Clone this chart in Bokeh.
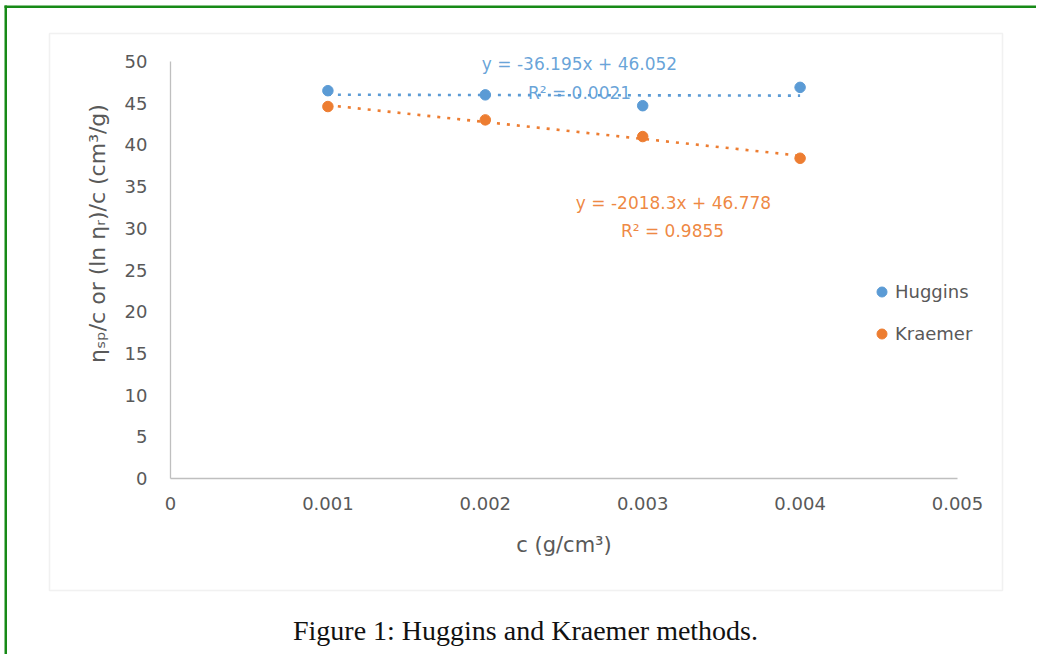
import numpy as np
from bokeh.plotting import figure
from bokeh.models import (Range1d, FixedTicker, Label, BoxAnnotation, Legend, LegendItem,
                          LinearAxis)
from bokeh.embed import file_html
from bokeh.resources import INLINE

# ---- data ----
conc = [0.001, 0.002, 0.003, 0.004]
huggins = [46.5, 46.0, 44.7, 46.9]
kraemer = [44.6, 43.0, 41.0, 38.4]
fit_slope = [-36.195, -2018.3]
fit_intercept = [46.052, 46.778]
fit_r2 = [0.0021, 0.9855]
series_names = ["Huggins", "Kraemer"]
x_ticks = [0, 0.001, 0.002, 0.003, 0.004, 0.005]
x_tick_labels = ["0", "0.001", "0.002", "0.003", "0.004", "0.005"]
y_ticks = [0, 5, 10, 15, 20, 25, 30, 35, 40, 45, 50]
x_title = "c (g/cm³)"
y_title = "ηₛₚ/c or (ln ηᵣ)/c (cm³/g)"
caption = "Figure 1: Huggins and Kraemer methods."

# ---- styling / layout ----
BLUE = "#5b9bd5"
ORANGE = "#ed7d31"
GRAY_TXT = "#595959"
FONT = "DejaVu Sans"
W, H = 1036, 654
# pixel anchors of the axes
PX_X0, PX_X5 = 170, 957
PX_Y0, PX_Y50 = 478, 61
sx = (PX_X5 - PX_X0) / 0.005
sy = (PX_Y0 - PX_Y50) / 50.0


def X(px):
    return (px - PX_X0) / sx


def Y(py):
    return (PX_Y0 - py) / sy


p = figure(width=W, height=H, output_backend="svg", toolbar_location=None,
           x_axis_type=None, y_axis_type=None,
           x_range=Range1d(X(0), X(W)), y_range=Range1d(Y(H), Y(0)),
           min_border=0, min_border_left=0, min_border_right=0,
           min_border_top=0, min_border_bottom=0)
p.grid.visible = False
p.outline_line_color = None
p.background_fill_color = "white"
p.border_fill_color = "white"

xaxis = LinearAxis(fixed_location=0, bounds=(0, 0.005), ticker=FixedTicker(ticks=x_ticks))
xaxis.major_label_overrides = {t: l for t, l in zip(x_ticks, x_tick_labels)}
yaxis = LinearAxis(fixed_location=0, bounds=(0, 50), ticker=FixedTicker(ticks=y_ticks))
for ax in (xaxis, yaxis):
    ax.axis_line_color = "#bfbfbf"
    ax.axis_line_width = 1.3
    ax.major_tick_line_color = None
    ax.minor_tick_line_color = None
    ax.major_tick_in = 0
    ax.major_tick_out = 0
    ax.minor_tick_in = 0
    ax.minor_tick_out = 0
    ax.major_label_text_color = GRAY_TXT
    ax.major_label_text_font = FONT
    ax.major_label_text_font_size = "18px"
    ax.axis_label_text_color = GRAY_TXT
    ax.axis_label_text_font = FONT
    ax.axis_label_text_font_style = "normal"
    ax.axis_label_text_font_size = "21px"
xaxis.major_label_standoff = 18
yaxis.major_label_standoff = 23
xaxis.axis_label = x_title
xaxis.axis_label_standoff = 20
p.add_layout(xaxis, "below")
p.add_layout(yaxis, "left")

# y axis title (placed as Excel does, slightly above the axis centre)
p.add_layout(Label(x=X(97), y=Y(233), text=y_title, angle=np.pi / 2,
                   text_color=GRAY_TXT, text_font=FONT, text_font_size="22px",
                   text_align="center", text_baseline="middle"))

# trendlines from the fitted equations
colors = [BLUE, ORANGE]
xs_fit = np.array([conc[0], conc[-1]])
for k in range(2):
    p.line(xs_fit, fit_slope[k] * xs_fit + fit_intercept[k], line_color=colors[k],
           line_width=2.6, line_dash="3 7")

r_h = p.scatter(conc, huggins, size=10.5, fill_color=BLUE, line_color=BLUE)
r_k = p.scatter(conc, kraemer, size=10.5, fill_color=ORANGE, line_color=ORANGE)

legend = Legend(items=[LegendItem(label=series_names[0], renderers=[r_h]),
                       LegendItem(label=series_names[1], renderers=[r_k])],
                location=(869, 308), orientation="vertical",
                glyph_width=25, glyph_height=25, spacing=17, padding=10,
                label_standoff=1, border_line_color=None, background_fill_alpha=0,
                label_text_font=FONT, label_text_font_size="18px",
                label_text_color=GRAY_TXT)
p.add_layout(legend)


# equation labels
def eq_text(k):
    return f"y = {fit_slope[k]}x + {fit_intercept[k]}"


lbls = [
    (eq_text(0), 579, 63, BLUE),
    (f"R² = {fit_r2[0]}", 579, 92, BLUE),
    (eq_text(1), 673, 202.5, ORANGE),
    (f"R² = {fit_r2[1]}", 672, 230, ORANGE),
]
for t, px, py, c in lbls:
    p.add_layout(Label(x=X(px), y=Y(py), text=t, text_color=c, text_font=FONT,
                       text_font_size="17px", text_align="center",
                       text_baseline="alphabetic", text_alpha=0.92))

# caption
p.add_layout(Label(x=X(525), y=Y(630), text=caption,
                   text_color="#111111", text_font="Liberation Serif",
                   text_font_size="28px", text_align="center", text_baseline="alphabetic"))

# chart area frame and document border
p.add_layout(BoxAnnotation(left=X(49), right=X(1002), top=Y(33), bottom=Y(590),
                           fill_alpha=0, line_color="#d2d2d2", line_width=1.5))
p.add_layout(BoxAnnotation(left=X(4), right=X(6.5), top=Y(5), bottom=Y(H),
                           fill_color="#178a17", fill_alpha=1, line_color=None))
p.add_layout(BoxAnnotation(left=X(4), right=X(W), top=Y(5), bottom=Y(7.5),
                           fill_color="#178a17", fill_alpha=1, line_color=None))

open("out.html", "w").write(file_html(p, INLINE))
